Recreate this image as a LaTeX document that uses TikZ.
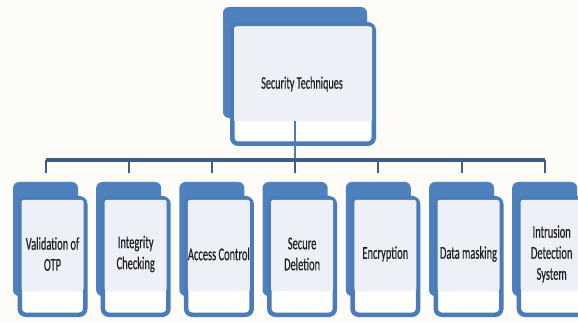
\documentclass[tikz,border=0pt]{standalone}
\usepackage{fontspec}
\setmainfont[FakeStretch=0.58,FakeBold=0.35]{Carlito}
\definecolor{bblue}{HTML}{4F81BD}
\definecolor{bord}{HTML}{4A7CB9}
\definecolor{innerc}{HTML}{EDF0F6}
\definecolor{barc}{HTML}{3D5E87}
\definecolor{bgc}{HTML}{FDFCF8}
\definecolor{txtc}{HTML}{1E1E1E}
\begin{document}
\begin{tikzpicture}[x=1pt,y=-1pt,
  backbox/.style={fill=bblue, rounded corners=6pt, inner sep=0pt, outer sep=0pt},
  frontbox/.style={fill=white, draw=bord, line width=4.5pt, rounded corners=6pt, inner sep=0pt, outer sep=0pt},
  innerbox/.style={fill=innerc, rounded corners=2pt, inner sep=0pt, outer sep=0pt},
  txt/.style={align=center, text=txtc, inner sep=0pt, font=\fontsize{18}{21}\selectfont},
  bar/.style={draw=barc, line width=4.5pt},
  tick/.style={draw=barc, line width=2pt, shorten >=9pt},
  conn/.style={draw=bord, line width=2.5pt}]
\path[use as bounding box, fill=bgc] (0,0) rectangle (578,323);
\clip (0,0) rectangle (578,323);
% top box
\node[backbox, minimum width=144pt, minimum height=111pt] (tb) at (295,62.5) {};
\node[frontbox, minimum width=141.5pt, minimum height=119.5pt] (tf) at (303,84) {};
\node[innerbox, minimum width=138pt, minimum height=95pt] (ti) at (303,74) {};
\node[txt, font=\fontsize{17.5}{20}\selectfont] (tt) at (302,84) {Security Techniques};
% children
\foreach \i/\t in {0/{Validation of\\OTP}, 1/{Integrity\\Checking}, 2/{Access Control}, 3/{Secure\\Deletion}, 4/{Encryption}, 5/{Data masking}, 6/{Intrusion\\Detection\\System}} {
  \pgfmathsetmacro\cx{45.5+83.2*\i}
  \node[backbox, minimum width=65pt, minimum height=114pt] (b\i) at (\cx,239) {};
  \node[frontbox, minimum width=65.5pt, minimum height=116.5pt] (f\i) at (\cx+7,256.5) {};
  \node[innerbox, minimum width=62pt, minimum height=91pt] (n\i) at (\cx+7,245.5) {};
  \node[txt] (l\i) at (\cx+7,254) {\t};
}
% connectors
\coordinate (barL) at (45.5,160);
\draw[conn] (ti.south -| tb.south) -- (tb.south |- barL);
\draw[bar] (b0.north |- barL) -- (b6.north |- barL);
\foreach \i in {0,...,6} {
  \draw[tick] (b\i.north |- barL) -- (b\i.north);
}
\end{tikzpicture}
\end{document}
